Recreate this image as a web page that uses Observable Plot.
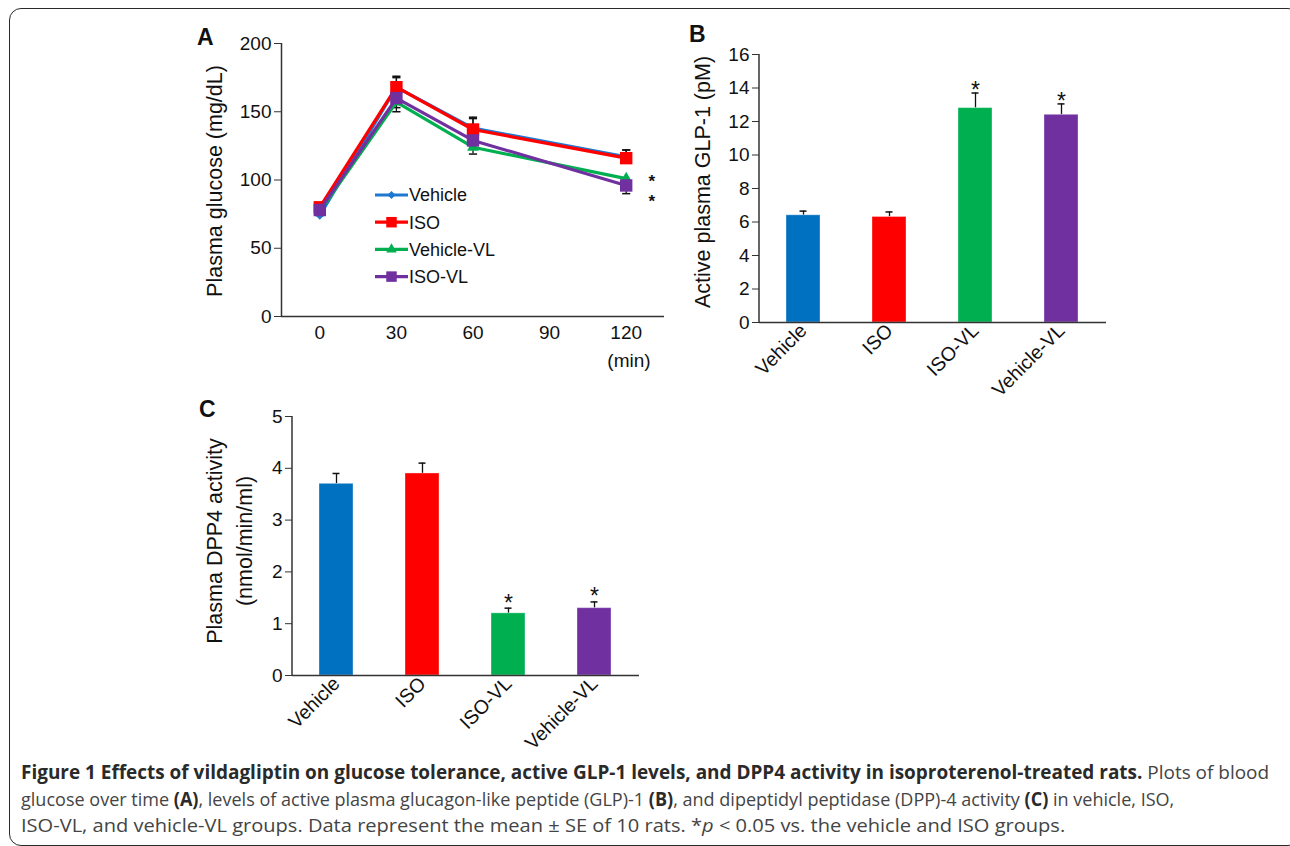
<!DOCTYPE html>
<html><head><meta charset="utf-8">
<script src="https://cdn.jsdelivr.net/npm/d3@7"></script>
<script src="https://cdn.jsdelivr.net/npm/@observablehq/plot@0.6"></script>
<style>
body{margin:0;background:#fff;font-family:"Liberation Sans",Arial,Helvetica,sans-serif;color:#111;}
#page{position:relative;width:1290px;height:846px;overflow:hidden;background:#fff;}
.box{position:absolute;left:9px;top:8px;width:1291px;height:838px;border:1.5px solid #2a2a2a;border-radius:12px;box-sizing:border-box;}
.panel{position:absolute;}
.ylab{position:absolute;transform:translate(-50%,-50%) rotate(-90deg);white-space:nowrap;font-size:21.5px;line-height:1;color:#111;}
.letter{position:absolute;font-weight:bold;font-size:23px;line-height:1;color:#111;}
.txt{position:absolute;white-space:nowrap;line-height:1;}
</style></head>
<body>
<div id="page">
  <div class="box"></div>
  <div id="A" class="panel" style="left:190px;top:20px"></div>
  <div id="B" class="panel" style="left:680px;top:20px"></div>
  <div id="C" class="panel" style="left:190px;top:395px"></div>
  <div class="letter" style="left:197px;top:26px">A</div>
  <div class="letter" style="left:689px;top:23px">B</div>
  <div class="letter" style="left:199px;top:398px">C</div>
  <div class="ylab" style="left:216px;top:181px">Plasma glucose (mg/dL)</div>
  <div class="ylab" style="left:704px;top:182px">Active plasma GLP-1 (pM)</div>
  <div class="ylab" style="left:216px;top:541px">Plasma DPP4 activity</div>
  <div class="ylab" style="left:246px;top:541px">(nmol/min/ml)</div>
  <div class="txt" style="left:629px;top:360px;font-size:19px;transform:translate(-50%,-50%)">(min)</div>
  <svg id="legendA" style="position:absolute;left:370px;top:180px" width="140" height="110"></svg>
  <svg id="caption" style="position:absolute;left:0;top:750px" width="1290" height="96"></svg>
</div>
<script>
// ---------- DATA ----------
const times = [0, 30, 60, 120];
const xTicksA = [0, 30, 60, 90, 120];
const yTicksA = [0, 50, 100, 150, 200];
const lineGroups = ["Vehicle", "ISO", "Vehicle-VL", "ISO-VL"];
const glucoseVehicle   = [74, 168, 138, 117];
const glucoseISO       = [80, 168, 137, 116];
const glucoseVehicleVL = [77, 157, 124, 101];
const glucoseISOVL     = [78, 160, 129, 96];
const seVehicle   = [3, 7, 7, 5];
const seISO       = [3, 8, 9, 6];
const seVehicleVL = [3, 7, 5, 4];
const seISOVL     = [3, 7, 5, 6];
const errDirA = [1, 1, -1, -1];           // error bar drawn up / down
// significance markers next to Vehicle-VL and ISO-VL at 120 min
const starsA = [{t: 130, v: 102}, {t: 130, v: 87.5}];

const barGroups = ["Vehicle", "ISO", "ISO-VL", "Vehicle-VL"];
const glp1Mean = [6.4, 6.3, 12.8, 12.4];
const glp1SE   = [0.25, 0.3, 0.9, 0.65];
const dpp4Mean = [3.7, 3.9, 1.2, 1.3];
const dpp4SE   = [0.2, 0.2, 0.1, 0.12];
const significant = [false, false, true, true];
const yTicksB = [0, 2, 4, 6, 8, 10, 12, 14, 16];
const yTicksC = [0, 1, 2, 3, 4, 5];

const lineColors = ["#1f78cf", "#ff0000", "#00b050", "#7030a0"];
const barColors  = ["#0070c0", "#ff0000", "#00b050", "#7030a0"];
const symbolsA = ["diamond2", "square", "triangle", "square"];
const radiiA   = [3.8, 7, 4.4, 7];

const captionLines = [
  [{b: true, t: "Figure 1 Effects of vildagliptin on glucose tolerance, active GLP-1 levels, and DPP4 activity in isoproterenol-treated rats."}, {b: false, t: " Plots of blood"}],
  [{b: false, t: "glucose over time "}, {b: true, t: "(A)"}, {b: false, t: ", levels of active plasma glucagon-like peptide (GLP)-1 "}, {b: true, t: "(B)"}, {b: false, t: ", and dipeptidyl peptidase (DPP)-4 activity "}, {b: true, t: "(C)"}, {b: false, t: " in vehicle, ISO,"}],
  [{b: false, t: "ISO-VL, and vehicle-VL groups. Data represent the mean ± SE of 10 rats. *"}, {b: false, i: true, t: "p"}, {b: false, t: " < 0.05 vs. the vehicle and ISO groups."}]
];
const captionWidths = [1249, 1154, 1045];

// ---------- PANEL A ----------
const glucose = [glucoseVehicle, glucoseISO, glucoseVehicleVL, glucoseISOVL];
const seA = [seVehicle, seISO, seVehicleVL, seISOVL];
const rowsA = lineGroups.flatMap((g, i) => times.map((t, j) => ({
  group: g, t, v: glucose[i][j], e: glucose[i][j] + errDirA[i] * seA[i][j]
})));
const font = '"Liberation Sans", Arial, Helvetica, sans-serif';

const marksA = [
  Plot.ruleX([xTicksA[0] - 15], {stroke: "#333", strokeWidth: 1.5}),
  Plot.ruleY([yTicksA[0]], {stroke: "#333", strokeWidth: 1.5}),
  Plot.axisY({ticks: yTicksA, tickSize: 7, tickPadding: 3, fontSize: 19, label: null, stroke: "#333"}),
  Plot.axisX({ticks: xTicksA, tickSize: 0, tickPadding: 9, fontSize: 19, label: null}),
  Plot.ruleX(rowsA, {x: "t", y1: "v", y2: "e", stroke: "#111", strokeWidth: 1.3}),
  Plot.link(rowsA, {x1: d => d.t - 1.6, x2: d => d.t + 1.6, y1: "e", y2: "e", stroke: "#111", strokeWidth: 1.5})
];
lineGroups.forEach((g, i) => {
  const sub = rowsA.filter(d => d.group === g);
  marksA.push(Plot.line(sub, {x: "t", y: "v", stroke: lineColors[i], strokeWidth: 3.2}));
  marksA.push(Plot.dot(sub, {x: "t", y: "v", fill: lineColors[i], symbol: symbolsA[i], r: radiiA[i], stroke: "none"}));
});
marksA.push(Plot.text(starsA, {x: "t", y: "v", text: () => "*", fontSize: 17, fontWeight: "bold", dy: 4.5, fill: "#111"}));

const plotA = Plot.plot({
  width: 494, height: 346, marginLeft: 91, marginRight: 20, marginTop: 23, marginBottom: 50,
  style: {fontFamily: font, color: "#111", background: "transparent", overflow: "visible"},
  x: {domain: [xTicksA[0] - 15, 135], label: null},
  y: {domain: [0, 200], label: null},
  marks: marksA
});
document.getElementById("A").append(plotA);

// ---------- BAR PANELS ----------
function barPanel(id, means, ses, yDomain, yTicks, opts) {
  const rows = barGroups.map((g, i) => ({g, v: means[i], e: means[i] + ses[i], sig: significant[i]}));
  const p = Plot.plot({
    width: opts.width, height: opts.height,
    marginLeft: opts.ml, marginRight: opts.mr, marginTop: opts.mt, marginBottom: opts.mb,
    style: {fontFamily: font, color: "#111", background: "transparent", overflow: "visible"},
    x: {domain: barGroups, paddingInner: 0.6, paddingOuter: 0.3, label: null},
    y: {domain: yDomain, label: null},
    color: {domain: barGroups, range: barColors},
    marks: [
      Plot.ruleX(rows, {x: "g", y1: "v", y2: "e", stroke: "#111", strokeWidth: 1.3}),
      Plot.tickY(rows, {x: "g", y: "e", stroke: "#111", strokeWidth: 1.5, insetLeft: 13.5, insetRight: 13.5}),
      Plot.barY(rows, {x: "g", y: "v", fill: "g", stroke: "#ffffff", strokeOpacity: 0.35, strokeWidth: 1}),
      Plot.text(rows.filter(d => d.sig), {x: "g", y: "e", text: () => "*", fontSize: 23, dy: opts.starDy, fill: "#111"}),
      Plot.ruleY([yDomain[0]], {stroke: "#333", strokeWidth: 1.5}),
      Plot.axisY({ticks: yTicks, tickFormat: d3.format("d"), tickSize: 7, tickPadding: 3, fontSize: 19, label: null, stroke: "#333"}),
      Plot.axisX({tickSize: 0, tickPadding: 5, tickRotate: -45, fontSize: 19.5, label: null})
    ]
  });
  document.getElementById(id).append(p);
  return p;
}
const pB = barPanel("B", glp1Mean, glp1SE, [0, 16], yTicksB, {width: 436, height: 377, ml: 79, mr: 10, mt: 34, mb: 75, starDy: -2});
const pC = barPanel("C", dpp4Mean, dpp4SE, [0, 5], yTicksC, {width: 459, height: 360, ml: 102, mr: 10, mt: 21, mb: 80, starDy: -5});

// vertical y-axis lines for bar panels
function addYLine(p, x, y1, y2) {
  d3.select(p).append("line").attr("x1", x).attr("x2", x).attr("y1", y1).attr("y2", y2)
    .attr("stroke", "#333").attr("stroke-width", 1.5);
}
addYLine(pB, 79, 34, 377 - 75);
addYLine(pC, 102, 21, 360 - 80);

// ---------- LEGEND A ----------
const lg = d3.select("#legendA");
const legSym = [d3.symbolDiamond2, d3.symbolSquare, d3.symbolTriangle, d3.symbolSquare];
const legSize = [42, 110, 48, 110];
lineGroups.forEach((g, i) => {
  const cy = 15 + i * 27.2;
  lg.append("line").attr("x1", 5).attr("x2", 38).attr("y1", cy).attr("y2", cy)
    .attr("stroke", lineColors[i]).attr("stroke-width", 3.2);
  lg.append("path").attr("d", d3.symbol(legSym[i], legSize[i])()).attr("transform", `translate(21.5,${cy})`)
    .attr("fill", lineColors[i]);
  lg.append("text").attr("x", 39).attr("y", cy).attr("dy", "0.35em").attr("font-size", 18)
    .attr("font-family", font).attr("fill", "#111").text(g);
});

// ---------- CAPTION ----------
const cap = d3.select("#caption");
const capFont = '"Open Sans", "Noto Sans", sans-serif';
captionLines.forEach((line, i) => {
  const g = cap.append("g");
  const t = g.append("text").attr("x", 0).attr("y", 0)
    .attr("font-family", capFont).attr("font-size", 19).attr("fill", "#444");
  line.forEach(s => {
    const ts = t.append("tspan").text(s.t);
    if (s.b) ts.attr("font-weight", "bold").attr("fill", "#2a2a2a");
    if (s.i) ts.attr("font-style", "italic");
  });
  const natural = t.node().getComputedTextLength();
  const sx = captionWidths[i] / natural;
  g.attr("transform", `translate(21,${29 + i * 26.5}) scale(${sx},1)`);
});
</script>
</body></html>
